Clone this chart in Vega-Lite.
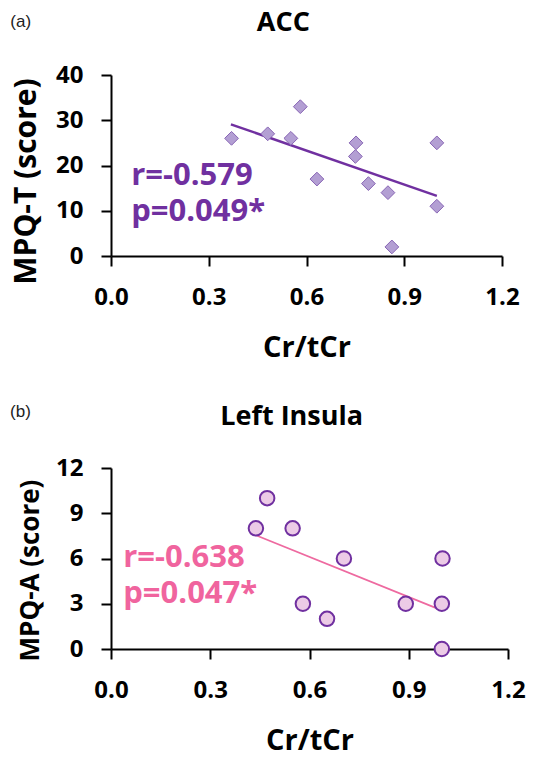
{
  "$schema": "https://vega.github.io/schema/vega-lite/v6.json",
  "background": "white",
  "padding": {"left": 10, "top": 8, "right": 8, "bottom": 4},
  "bounds": "flush",
  "spacing": 212,
  "config": {
    "view": {"stroke": null},
    "font": "Open Sans",
    "axis": {
      "grid": false,
      "labelFlush": false,
      "domainColor": "black",
      "domainWidth": 2,
      "tickColor": "black",
      "tickWidth": 2,
      "tickSize": 10,
      "labelColor": "black",
      "labelFont": "Open Sans",
      "labelFontWeight": "bold",
      "labelFontSize": 24,
      "titleColor": "black",
      "titleFont": "Open Sans",
      "titleFontWeight": "bold"
    }
  },
  "datasets": {
    "acc": [
      {"cr": 0.370, "score": 26},
      {"cr": 0.481, "score": 27},
      {"cr": 0.552, "score": 26},
      {"cr": 0.581, "score": 33},
      {"cr": 0.632, "score": 17},
      {"cr": 0.752, "score": 25},
      {"cr": 0.750, "score": 22},
      {"cr": 0.790, "score": 16},
      {"cr": 0.850, "score": 14},
      {"cr": 0.862, "score": 2},
      {"cr": 1.000, "score": 25},
      {"cr": 1.000, "score": 11}
    ],
    "accLine": [
      {"cr": 0.368, "score": 29.1},
      {"cr": 1.000, "score": 13.3}
    ],
    "accText": [
      {"cr": 0.062, "score": 17.7, "label": "r=-0.579"},
      {"cr": 0.062, "score": 9.8, "label": "p=0.049*"}
    ],
    "accTitle": [
      {"cr": 0.529, "score": 51.5, "label": "ACC"}
    ],
    "accTag": [
      {"cr": -0.309, "score": 51.7, "label": "(a)"}
    ],
    "ins": [
      {"cr": 0.438, "score": 8},
      {"cr": 0.472, "score": 10},
      {"cr": 0.549, "score": 8},
      {"cr": 0.580, "score": 3},
      {"cr": 0.653, "score": 2},
      {"cr": 0.704, "score": 6},
      {"cr": 0.891, "score": 3},
      {"cr": 1.002, "score": 6},
      {"cr": 1.000, "score": 3},
      {"cr": 1.000, "score": 0}
    ],
    "insLine": [
      {"cr": 0.438, "score": 7.54},
      {"cr": 1.000, "score": 2.56}
    ],
    "insText": [
      {"cr": 0.037, "score": 6.03, "label": "r=-0.638"},
      {"cr": 0.037, "score": 3.67, "label": "p=0.047*"}
    ],
    "insTitle": [
      {"cr": 0.546, "score": 15.4, "label": "Left Insula"}
    ],
    "insTag": [
      {"cr": -0.305, "score": 15.7, "label": "(b)"}
    ]
  },
  "vconcat": [
    {
      "width": 391,
      "height": 181,
      "encoding": {
        "x": {"field": "cr", "type": "quantitative", "scale": {"domain": [0, 1.2]},
              "axis": {"values": [0, 0.3, 0.6, 0.9, 1.2], "format": ".1f", "title": "Cr/tCr", "titleFontSize": 29, "labelPadding": 19, "titlePadding": 24}},
        "y": {"field": "score", "type": "quantitative", "scale": {"domain": [0, 40]},
              "axis": {"values": [0, 10, 20, 30, 40], "title": "MPQ-T (score)", "titleFontSize": 30, "labelPadding": 18, "titlePadding": 14, "titleY": 106}}
      },
      "layer": [
        {"data": {"name": "accLine"}, "mark": {"type": "line", "color": "#7030a0", "strokeWidth": 2.5}},
        {"data": {"name": "acc"}, "mark": {"type": "point", "shape": "diamond", "filled": true, "size": 190, "fill": "#b39fd3", "stroke": "#8865b5", "strokeWidth": 1, "opacity": 1}},
        {"data": {"name": "accText"}, "mark": {"type": "text", "align": "left", "baseline": "middle", "fontSize": 31, "fontWeight": "bold", "color": "#7030a0"}, "encoding": {"text": {"field": "label"}}},
        {"data": {"name": "accTitle"}, "mark": {"type": "text", "align": "center", "baseline": "middle", "fontSize": 27, "fontWeight": "bold", "color": "black"}, "encoding": {"text": {"field": "label"}}},
        {"data": {"name": "accTag"}, "mark": {"type": "text", "align": "left", "baseline": "middle", "fontSize": 17, "font": "Liberation Sans", "color": "#222222"}, "encoding": {"text": {"field": "label"}}}
      ]
    },
    {
      "width": 397,
      "height": 181,
      "encoding": {
        "x": {"field": "cr", "type": "quantitative", "scale": {"domain": [0, 1.2]},
              "axis": {"values": [0, 0.3, 0.6, 0.9, 1.2], "format": ".1f", "title": "Cr/tCr", "titleFontSize": 29, "labelPadding": 19, "titlePadding": 24}},
        "y": {"field": "score", "type": "quantitative", "scale": {"domain": [0, 12]},
              "axis": {"values": [0, 3, 6, 9, 12], "title": "MPQ-A (score)", "titleFontSize": 26, "labelPadding": 18, "titlePadding": 12, "titleY": 102}}
      },
      "layer": [
        {"data": {"name": "insLine"}, "mark": {"type": "line", "color": "#ee6aa0", "strokeWidth": 1.8}},
        {"data": {"name": "ins"}, "mark": {"type": "point", "shape": "circle", "filled": true, "size": 210, "fill": "#eccbe6", "stroke": "#7030a0", "strokeWidth": 2, "opacity": 1}},
        {"data": {"name": "insText"}, "mark": {"type": "text", "align": "left", "baseline": "middle", "fontSize": 31, "fontWeight": "bold", "color": "#f0649e"}, "encoding": {"text": {"field": "label"}}},
        {"data": {"name": "insTitle"}, "mark": {"type": "text", "align": "center", "baseline": "middle", "fontSize": 27, "fontWeight": "bold", "color": "black"}, "encoding": {"text": {"field": "label"}}},
        {"data": {"name": "insTag"}, "mark": {"type": "text", "align": "left", "baseline": "middle", "fontSize": 17, "font": "Liberation Sans", "color": "#222222"}, "encoding": {"text": {"field": "label"}}}
      ]
    }
  ]
}
